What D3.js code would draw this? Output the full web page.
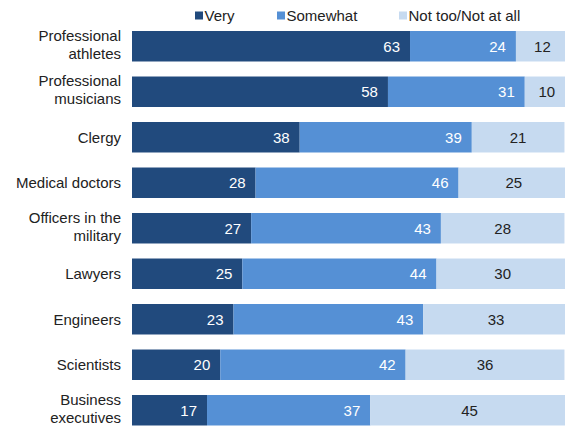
<!DOCTYPE html>
<html lang="en">
<head>
  <meta charset="UTF-8">
  <title>How important are ... - stacked bars</title>
  <script src="https://d3js.org/d3.v7.min.js"></script>
  <style>
    body {
      margin: 0;
      background: #fff;
      font-family: "Liberation Sans", Arial, sans-serif;
    }
    .cat { font-size: 15px; fill: #222; }
    .val { font-size: 15px; }
    .legend text { font-size: 15px; fill: #222; }
  </style>
</head>
<body>
<div id="chart"></div>

<script>
  var categories = [
    ["Professional", "athletes"],
    ["Professional", "musicians"],
    ["Clergy"],
    ["Medical doctors"],
    ["Officers in the", "military"],
    ["Lawyers"],
    ["Engineers"],
    ["Scientists"],
    ["Business", "executives"]
  ];
  var very     = [63, 58, 38, 28, 27, 25, 23, 20, 17];
  var somewhat = [24, 31, 39, 46, 43, 44, 43, 42, 37];
  var notToo   = [12, 10, 21, 25, 28, 30, 33, 36, 45];
  var seriesNames = ["Very", "Somewhat", "Not too/Not at all"];

  var width = 565;
  var height = 433;
  var colors = ["#214a7d", "#5590d5", "#c6daf0"];

  var svg = d3.select("#chart")
    .append("svg")
    .attr("width", width)
    .attr("height", height);

  var x = d3.scaleLinear()
    .domain([0, 100])
    .range([132, 573.3]);

  var y = d3.scaleBand()
    .domain(d3.range(categories.length))
    .range([23.5, 433])
    .paddingInner(0.33)
    .paddingOuter(0.165);

  var rows = categories.map(function(c, i) {
    return { i: i, label: c, vals: [very[i], somewhat[i], notToo[i]] };
  });

  // segments
  var segs = [];
  rows.forEach(function(r) {
    var acc = 0;
    r.vals.forEach(function(v, k) {
      segs.push({ i: r.i, k: k, v: v, x0: acc, x1: acc + v });
      acc += v;
    });
  });

  svg.append("g")
    .selectAll("rect")
    .data(segs)
    .enter().append("rect")
    .attr("x", d => x(d.x0))
    .attr("y", d => y(d.i))
    .attr("width", d => x(d.x1) - x(d.x0))
    .attr("height", y.bandwidth())
    .attr("fill", d => colors[d.k]);

  svg.append("g")
    .selectAll("text")
    .data(segs)
    .enter().append("text")
    .attr("class", "val")
    .attr("x", d => d.k < 2 ? x(d.x1) - 10 : (x(d.x0) + x(d.x1)) / 2)
    .attr("y", d => y(d.i) + y.bandwidth() / 2)
    .attr("dy", "0.36em")
    .attr("text-anchor", d => d.k < 2 ? "end" : "middle")
    .attr("fill", d => d.k < 2 ? "#fff" : "#222")
    .text(d => d.v);

  // category labels, one or two lines
  var cat = svg.append("g")
    .selectAll("text")
    .data(rows)
    .enter().append("text")
    .attr("class", "cat")
    .attr("text-anchor", "end")
    .attr("x", 121)
    .attr("y", d => y(d.i) + y.bandwidth() / 2);

  cat.each(function(d) {
    var t = d3.select(this);
    var n = d.label.length;
    d.label.forEach(function(line, j) {
      t.append("tspan")
        .attr("x", 121)
        .attr("dy", j === 0 ? (n === 1 ? "0.36em" : "-0.37em") : "1.2em")
        .text(line);
    });
  });

  // legend
  var legendX = [195, 277, 399];
  var legend = svg.append("g").attr("class", "legend")
    .selectAll("g")
    .data(seriesNames)
    .enter().append("g")
    .attr("transform", (d, i) => "translate(" + legendX[i] + ",16)");

  legend.append("rect")
    .attr("x", 0)
    .attr("y", -4.5)
    .attr("width", 8)
    .attr("height", 8)
    .attr("fill", (d, i) => colors[i]);

  legend.append("text")
    .attr("x", 9.5)
    .attr("dy", "0.36em")
    .text(d => d);
</script>
</body>
</html>
